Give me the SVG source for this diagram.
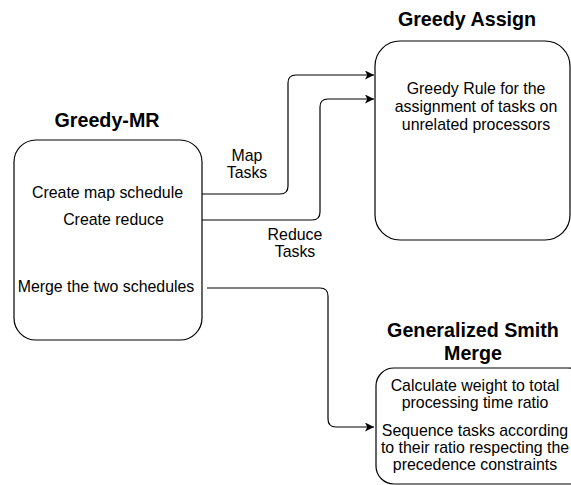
<svg xmlns="http://www.w3.org/2000/svg" width="571" height="485" viewBox="0 0 571 485">
<style>
.box{fill:#fff;stroke:#000;stroke-width:1.2}
.t{font-family:"Liberation Sans",Arial,sans-serif;font-size:15.9px;fill:#000;text-anchor:middle}
.h{font-family:"Liberation Sans",Arial,sans-serif;font-size:19.7px;font-weight:bold;fill:#000;text-anchor:middle}
.c{fill:none;stroke:#000;stroke-width:1.2}
</style>
<defs>
<marker id="arr" viewBox="0 0 10 10" refX="10" refY="5" markerWidth="9" markerHeight="9" markerUnits="userSpaceOnUse" orient="auto">
<path d="M0,0 L10,5 L0,10 L2.5,5 Z" fill="#000"/>
</marker>
</defs>
<rect width="571" height="485" fill="#fff"/>
<g id="connectors">
<path class="c" d="M202,194 H280 Q288,194 288,186 V83 Q288,75 296,75 H374" marker-end="url(#arr)"/>
<path class="c" d="M202,220 H312 Q320,220 320,212 V107 Q320,99 328,99 H374" marker-end="url(#arr)"/>
<path class="c" d="M207,288 H320 Q328,288 328,296 V419 Q328,427 336,427 H374" marker-end="url(#arr)"/>
<text class="t" x="247" y="161">Map</text>
<text class="t" x="247" y="178">Tasks</text>
<text class="t" x="295" y="240">Reduce</text>
<text class="t" x="295" y="257">Tasks</text>
</g>
<g id="greedy-mr">
<text class="h" x="107" y="127">Greedy-MR</text>
<rect class="box" x="14" y="140" width="188" height="200" rx="22" ry="22"/>
<text class="t" x="107.5" y="198">Create map schedule</text>
<text class="t" x="113.5" y="225">Create reduce</text>
<text class="t" x="106" y="292">Merge the two schedules</text>
</g>
<g id="greedy-assign">
<text class="h" x="467" y="26">Greedy Assign</text>
<rect class="box" x="375" y="41" width="195" height="199" rx="25" ry="25"/>
<text class="t" x="476" y="94">Greedy Rule for the</text>
<text class="t" x="476" y="112">assignment of tasks on</text>
<text class="t" x="476" y="130">unrelated processors</text>
</g>
<g id="generalized-smith-merge">
<text class="h" x="473" y="337">Generalized Smith</text>
<text class="h" x="473" y="360">Merge</text>
<rect class="box" x="376" y="368" width="210" height="116" rx="18" ry="18"/>
<text class="t" x="475" y="391">Calculate weight to total</text>
<text class="t" x="475" y="408">processing time ratio</text>
<text class="t" x="475" y="436">Sequence tasks according</text>
<text class="t" x="475" y="453">to their ratio respecting the</text>
<text class="t" x="475" y="470">precedence constraints</text>
</g>
</svg>
